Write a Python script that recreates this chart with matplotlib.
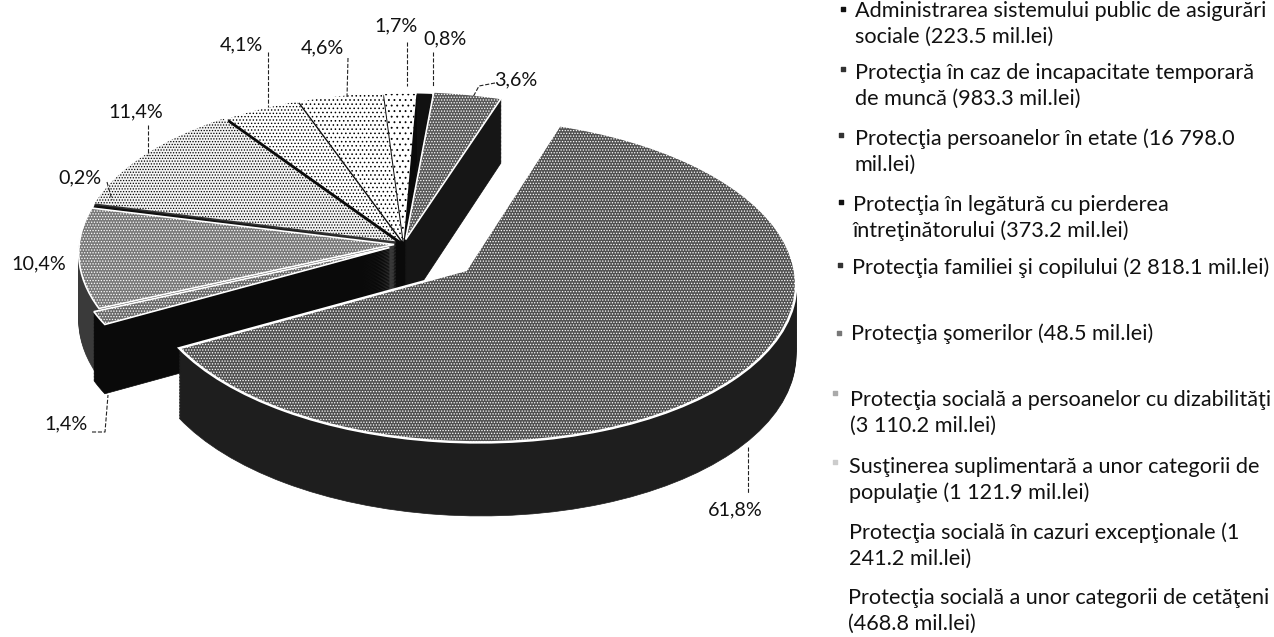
import matplotlib
matplotlib.use('Agg')
import matplotlib.pyplot as plt
import numpy as np
from matplotlib.transforms import Transform

# mil. lei, in the order of the legend
amounts = [223.5, 983.3, 16798.0, 373.2, 2818.1, 48.5, 3110.2, 1121.9, 1241.2, 468.8]
pct_labels = ['0,8%', '3,6%', '61,8%', '1,4%', '10,4%', '0,2%', '11,4%', '4,1%', '4,6%', '1,7%']
legend_labels = [
    'Administrarea sistemului public de asigurări\nsociale (223.5 mil.lei)',
    'Protecţia în caz de incapacitate temporară\nde muncă (983.3 mil.lei)',
    'Protecţia persoanelor în etate (16 798.0\nmil.lei)',
    'Protecţia în legătură cu pierderea\nîntreţinătorului (373.2 mil.lei)',
    'Protecţia familiei şi copilului (2 818.1 mil.lei)',
    'Protecţia şomerilor (48.5 mil.lei)',
    'Protecţia socială a persoanelor cu dizabilităţi\n(3 110.2 mil.lei)',
    'Susţinerea suplimentară a unor categorii de\npopulaţie (1 121.9 mil.lei)',
    'Protecţia socială în cazuri excepţionale (1\n241.2 mil.lei)',
    'Protecţia socială a unor categorii de cetăţeni\n(468.8 mil.lei)',
]

explode = [0.015, 0.03, 0.25, 0.05, 0.03, 0.025, 0.03, 0.02, 0.018, 0.012]
draw_order = [0, 9, 8, 7, 6, 5, 4, 3, 1, 2]
top_colors = ['#111111', '#585858', '#505050', '#6a6a6a', '#787878', '#111111', '#f4f4f4', 'white', 'white', 'white']
hatch_colors = ['#111111', 'white', 'white', 'white', 'white', '#111111', 'black', 'black', 'black', 'black']
hatches = ['', '......', '......', '......', '......', '', '......', '.....', '....', '...']
line_widths = [0, 1.2, 1.8, 1.2, 1.2, 0, 0, 0, 0, 0]
wall_colors = ['#0a0a0a', '#161616', '#1e1e1e', '#0a0a0a', '#3a3a3a', '#0a0a0a', '#333333', '#0a0a0a', '#0a0a0a', '#0a0a0a']

label_x = [445, 516, 735, 66, 39, 80, 136, 241, 322, 396]
label_y = [39, 80, 510, 424, 264, 178, 112, 45, 48, 26]
leaders = [
    ([433, 433], [52, 86]),
    ([495, 479, 473], [83, 86, 97]),
    ([748, 748], [447, 493]),
    ([92, 105, 108], [432, 432, 395]),
    None,
    ([107, 112], [182, 200]),
    ([148, 148], [125, 155]),
    ([268, 268], [52, 107]),
    ([348, 347], [58, 97]),
    ([407, 407], [42, 86]),
]
legend_x = [855, 855, 855, 853, 852, 851, 850, 849, 849, 848]
legend_y = [24, 86, 152, 218, 268, 334, 413, 480, 546, 611]
marker_x = [843, 843, 841, 841, 840, 839, 835, 835]
marker_y = [9, 69, 135, 202, 265, 333, 393, 462]

# where points of the pie plane land in the picture (u, v, x, y)
plane_pts = np.array([
    [0, 0, 418, 228],
    [0.2, -0.15, 485, 258],
    [0.46, 0.82, 538, 128],
    [-0.643, -0.687, 179, 343],
    [1.2, -0.15, 803, 300],
    [0.374, -1.135, 490, 437],
    [0.28, 0.97, 503, 100],
    [0.05, 1.0, 443, 95],
    [-1.005, 0.174, 96, 205],
    [-0.99, -0.14, 78, 267],
    [-0.92, -0.45, 98, 313],
    [-0.887, -0.558, 110, 327],
])
depth = 68


def fit_homography(p):
    rows, rhs = [], []
    for u, v, x, y in p:
        rows.append([u, v, 1, 0, 0, 0, -x * u, -x * v])
        rhs.append(x)
        rows.append([0, 0, 0, u, v, 1, -y * u, -y * v])
        rhs.append(y)
    return np.linalg.lstsq(np.array(rows), np.array(rhs), rcond=None)[0]


H = fit_homography(plane_pts)


class PieProjection(Transform):
    input_dims = 2
    output_dims = 2

    def __init__(self, z=0.0):
        super().__init__()
        self.z = z

    def transform_non_affine(self, xy):
        u, v = xy[:, 0], xy[:, 1]
        w = 1 + H[6] * u + H[7] * v
        x = (H[0] * u + H[1] * v + H[2]) / w
        y = (H[3] * u + H[4] * v + H[5]) / w
        return np.column_stack([x, y + self.z * depth / w])


plt.rcParams['font.family'] = ['Lato', 'DejaVu Sans']
plt.rcParams['hatch.linewidth'] = 0.6

fig = plt.figure(figsize=(12.74, 6.37), dpi=100)
ax = fig.add_axes([0, 0, 1, 1])

# stacked copies of the pie make the walls, last one is the top face
layers = np.linspace(1, 0, 49)
for k, z in enumerate(layers):
    wedges, _ = ax.pie(amounts, explode=explode, startangle=91, counterclock=False)
    for i, w in enumerate(wedges):
        w.set_transform(PieProjection(z) + ax.transData)
        w.set_zorder(draw_order.index(i) * 1000 + k + 1)
        if k == len(layers) - 1:
            w.set_facecolor(top_colors[i])
            w.set_edgecolor(hatch_colors[i])
            w.set_hatch(hatches[i])
            w.set_linewidth(line_widths[i])
        else:
            w.set_facecolor(wall_colors[i])
            w.set_edgecolor(wall_colors[i])
            w.set_linewidth(0.5)

ax.set_aspect('auto')
ax.set_xlim(0, 1274)
ax.set_ylim(637, 0)
ax.axis('off')

for i, lab in enumerate(pct_labels):
    ax.text(label_x[i], label_y[i], lab, fontsize=14.2, color='#111111',
            ha='center', va='center', zorder=20000)
    if leaders[i] is not None:
        ax.plot(leaders[i][0], leaders[i][1], color='#222222', lw=0.8, ls='--', zorder=20000)

for i, lab in enumerate(legend_labels):
    ax.text(legend_x[i], legend_y[i], lab, fontsize=15.6, color='#111111',
            ha='left', va='center', linespacing=1.38, zorder=20000)

ax.scatter(marker_x, marker_y, s=12, marker='s',
           color=['#111111', '#333333', '#333333', '#111111', '#333333', '#777777', '#aaaaaa', '#cccccc'],
           zorder=20000)

plt.savefig('out.png', dpi=100)
